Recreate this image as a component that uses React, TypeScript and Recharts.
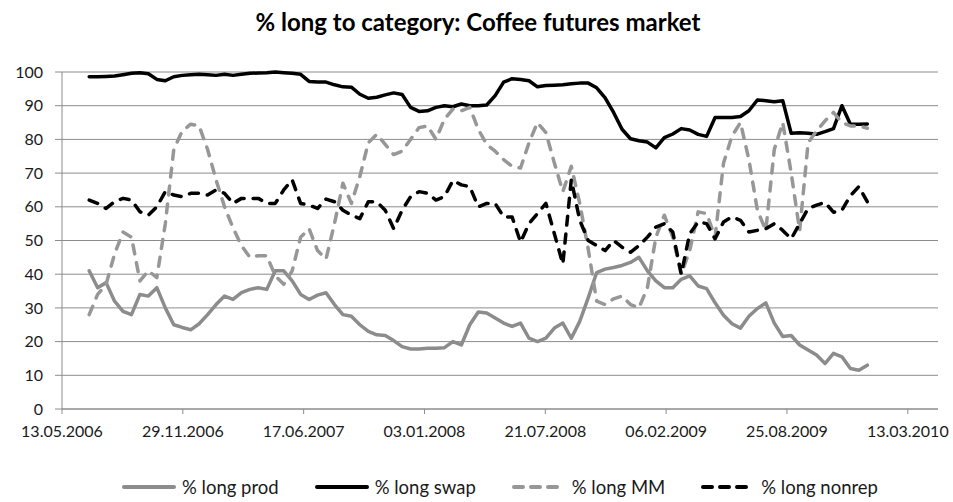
import React from 'react';
import { LineChart, Line, XAxis, YAxis, CartesianGrid } from 'recharts';

// Weekly COT-style report dates, sampled every 14 days from the first report
const FIRST_REPORT = [2006, 5, 27]; // 27.06.2006 (UTC y, m0, d)
const STEP_DAYS = 14;

// Date axis: starts 13.05.2006, labelled every 200 days
const AXIS_START = [2006, 4, 13];
const AXIS_TICK_STEP_DAYS = 200;
const AXIS_TICK_COUNT = 8;
const AXIS_SPAN_DAYS = 1450;

const Y_TICKS = [0, 10, 20, 30, 40, 50, 60, 70, 80, 90, 100];

const TITLE = '% long to category: Coffee futures market';

const longProd = [
  41, 36, 37.5, 32, 29, 28, 34, 33.5, 36, 30,
  25, 24.2, 23.5, 25.3, 28, 31, 33.5, 32.5, 34.5, 35.5,
  36, 35.5, 41, 41, 38, 34, 32.5, 33.8, 34.5, 31,
  28, 27.5, 25, 23, 22, 21.8, 20.3, 18.5, 17.8, 17.8,
  18, 18, 18.2, 20, 19, 25, 28.8, 28.5, 27, 25.5,
  24.5, 25.5, 21, 20, 21, 24, 25.5, 21, 26, 33,
  40.5, 41.5, 42, 42.6, 43.5, 45, 41, 38, 36, 36,
  38.5, 39.5, 36.5, 35.7, 31.5, 27.8, 25.3, 24, 27.5, 29.8,
  31.5, 25.5, 21.5, 21.8, 19, 17.5, 16, 13.5, 16.5, 15.5,
  12, 11.5, 13,
];

const longSwap = [
  98.6, 98.6, 98.7, 98.8, 99.2, 99.6, 99.8, 99.5, 97.8, 97.4,
  98.6, 99, 99.2, 99.3, 99.2, 99, 99.3, 99, 99.3, 99.6,
  99.7, 99.8, 100, 99.8, 99.6, 99.3, 97.2, 97, 97, 96.2,
  95.6, 95.5, 93.4, 92.2, 92.5, 93.2, 93.8, 93.3, 89.5, 88.3,
  88.5, 89.5, 90, 89.7, 90.5, 90, 90, 90.2, 93, 97,
  98, 97.8, 97.4, 95.6, 96, 96.1, 96.2, 96.5, 96.7, 96.7,
  95.3, 92.3, 88, 83, 80.2, 79.6, 79.2, 77.5, 80.5, 81.6,
  83.2, 82.8, 81.5, 80.9, 86.5, 86.5, 86.5, 86.8, 88.5, 91.7,
  91.5, 91.2, 91.5, 81.8, 82, 81.8, 81.5, 82.3, 83.2, 90,
  84.5, 84.5, 84.6,
];

const longMM = [
  28, 34, 37, 46, 52.5, 51, 38, 41, 39, 55,
  77, 82.5, 84.5, 84, 77, 68, 60, 53.8, 48.5, 45,
  45.5, 45.5, 39.5, 37, 41, 51, 53.5, 47, 44.5, 55,
  67, 61, 69, 79, 81.5, 78.5, 75.5, 76.5, 80, 83.5,
  84, 80, 86, 89, 88.5, 89.5, 83, 78.5, 76.5, 74,
  72, 71.5, 79, 85, 82, 73, 64.5, 72, 61, 47.5,
  32, 31, 32.7, 33.5, 31, 30, 36, 51, 57.5, 51,
  40, 47, 58.5, 58, 51, 73, 81, 85, 74, 59,
  53, 77, 85, 70, 53, 79, 82.5, 85.5, 88, 85,
  84, 84, 83.3,
];

const longNonrep = [
  62, 61, 59.5, 61.5, 62.5, 62, 58.5, 57.5, 60, 64.5,
  63.5, 63, 64, 64, 63.5, 65, 64, 61, 62.5, 62.5,
  62.5, 61, 61, 65, 68, 61, 60.5, 59.5, 62.3, 61.5,
  59, 57.5, 56.5, 61.5, 61.5, 59, 53.5, 59, 63, 64.5,
  64, 62, 63, 67.8, 66.5, 66, 60, 61, 61, 57,
  57, 49.5, 55, 58, 61, 52, 43, 68, 56, 50,
  48.5, 47, 50, 48, 46.5, 48.5, 51, 54, 55, 52.5,
  40, 52, 55.5, 55, 50.5, 55.5, 57, 56, 52.5, 53,
  53.5, 55, 53, 50.5, 55, 59.5, 60.5, 61.3, 58.4, 59,
  63.3, 66, 61.5,
];

const DAY_MS = 86400000;
const toDay = (ymd: number[]) => Date.UTC(ymd[0], ymd[1], ymd[2]) / DAY_MS;

const firstDay = toDay(FIRST_REPORT);
const axisStart = toDay(AXIS_START);
const xTicks = Array.from({ length: AXIS_TICK_COUNT }, (_, k) => axisStart + k * AXIS_TICK_STEP_DAYS);

const data = longProd.map((v, i) => ({
  t: firstDay + i * STEP_DAYS,
  prod: v,
  swap: longSwap[i],
  mm: longMM[i],
  nonrep: longNonrep[i],
}));

const pad = (n: number) => (n < 10 ? '0' + n : '' + n);
const fmtDate = (d: number) => {
  const dt = new Date(d * DAY_MS);
  return `${pad(dt.getUTCDate())}.${pad(dt.getUTCMonth() + 1)}.${dt.getUTCFullYear()}`;
};

const FONT = 'Lato, "Open Sans", sans-serif';
const GRID = '#8c8c8c';
const TEXT = '#1a1a1a';

const SERIES = [
  { key: 'prod', name: '% long prod', color: '#8c8c8c', dash: undefined as string | undefined },
  { key: 'swap', name: '% long swap', color: '#000000', dash: undefined as string | undefined },
  { key: 'mm', name: '% long MM', color: '#979797', dash: '9 9' },
  { key: 'nonrep', name: '% long nonrep', color: '#000000', dash: '9 9' },
];

export default function App() {
  return (
    <div style={{ position: 'absolute', left: 0, top: 0, width: 953, height: 502, background: '#fff', fontFamily: FONT }}>
      <svg width={953} height={44} style={{ position: 'absolute', left: 0, top: 0 }}>
        <text x={478} y={31} textAnchor="middle" fontFamily={FONT} fontWeight={700} fontSize={24} fill="#000">
          {TITLE}
        </text>
      </svg>
      <div style={{ position: 'absolute', left: 0, top: 0 }}>
        <LineChart width={953} height={502} data={data} margin={{ top: 72, right: 15, bottom: 0, left: 0 }}>
          <CartesianGrid vertical={false} stroke={GRID} strokeWidth={1} />
          <XAxis
            dataKey="t"
            type="number"
            domain={[axisStart, axisStart + AXIS_SPAN_DAYS]}
            allowDataOverflow
            ticks={xTicks}
            interval={0}
            tickFormatter={fmtDate}
            tickSize={5}
            tickMargin={12}
            stroke={GRID}
            tick={{ fill: TEXT, fontSize: 16, fontFamily: FONT }}
            height={93}
          />
          <YAxis
            type="number"
            domain={[0, 100]}
            ticks={Y_TICKS}
            interval={0}
            width={62}
            tickSize={7}
            tickMargin={12}
            stroke={GRID}
            tick={{ fill: TEXT, fontSize: 16, fontFamily: FONT }}
          />
          {SERIES.map((s) => (
            <Line
              key={s.key}
              dataKey={s.key}
              name={s.name}
              type="linear"
              stroke={s.color}
              strokeWidth={3.5}
              strokeDasharray={s.dash}
              strokeLinecap="round"
              strokeLinejoin="round"
              dot={false}
              activeDot={false}
              isAnimationActive={false}
            />
          ))}
        </LineChart>
      </div>
      <div
        style={{
          position: 'absolute',
          left: 62,
          width: 876,
          top: 475,
          height: 24,
          display: 'flex',
          justifyContent: 'center',
          alignItems: 'center',
          gap: 36,
          fontSize: 18.5,
          color: TEXT,
        }}
      >
        {SERIES.map((s) => (
          <div key={s.key} style={{ display: 'flex', alignItems: 'center' }}>
            <svg width={54} height={10}>
              <line
                x1={2}
                x2={52}
                y1={5}
                y2={5}
                stroke={s.color}
                strokeWidth={4}
                strokeLinecap="round"
                strokeDasharray={s.dash ? '9 8' : undefined}
              />
            </svg>
            <span style={{ marginLeft: 6, whiteSpace: 'nowrap' }}>{s.name}</span>
          </div>
        ))}
      </div>
    </div>
  );
}
